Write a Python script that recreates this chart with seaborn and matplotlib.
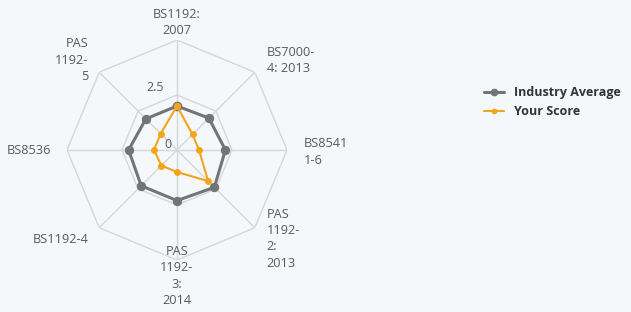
import numpy as np
import pandas as pd
import matplotlib
matplotlib.use("Agg")
import matplotlib.pyplot as plt
import seaborn as sns

# categories clockwise from the top
categories = ["BS1192:\n2007", "BS7000-\n4: 2013", "BS8541\n1-6", "PAS\n1192-\n2:\n2013",
              "PAS\n1192-\n3:\n2014", "BS1192-4", "BS8536", "PAS\n1192-\n5"]
industry_avg = [2.0, 2.05, 2.2, 2.4, 2.3, 2.3, 2.2, 2.0]
your_score = [2.0, 1.0, 1.0, 2.0, 1.0, 1.0, 1.05, 1.05]
radial_ticks = [0, 2.5, 5]
radial_labels = ["0", "2.5", ""]

bg = "#f5f8fa"
grid_c = "#d4d6d8"
gray = "#747474"
orange = "#f2a51a"
txt = "#5a5a5a"

sns.set_style("white")
plt.rcParams["font.family"] = ["Open Sans", "DejaVu Sans"]

n = len(categories)
theta = np.linspace(0, 2 * np.pi, n, endpoint=False)
theta_c = np.append(theta, 2 * np.pi)

df = pd.DataFrame({
    "theta": np.concatenate([theta_c, theta_c]),
    "value": industry_avg + industry_avg[:1] + your_score + your_score[:1],
    "series": ["Industry Average"] * (n + 1) + ["Your Score"] * (n + 1),
})

fig = plt.figure(figsize=(6.31, 3.12), dpi=100)
fig.patch.set_facecolor(bg)
ax = fig.add_axes([67 / 631, 52 / 312, 220 / 631, 220 / 312], projection="polar")
ax.set_facecolor(bg)
ax.set_theta_zero_location("N")
ax.set_theta_direction(-1)
ax.grid(False)
ax.spines["polar"].set_visible(False)
ax.set_ylim(0, 5)

# octagon grid and spokes
for lvl in radial_ticks[1:]:
    ax.plot(theta_c, [lvl] * (n + 1), color=grid_c, lw=1, zorder=1)
for t in theta:
    ax.plot([t, t], [0, 5], color=grid_c, lw=1, zorder=1)

sns.lineplot(data=df[df.series == "Industry Average"], x="theta", y="value", sort=False,
             estimator=None, color=gray, lw=2.2, marker="o", markersize=6,
             markeredgecolor=gray, label="Industry Average", ax=ax, zorder=3)
sns.lineplot(data=df[df.series == "Your Score"], x="theta", y="value", sort=False,
             estimator=None, color=orange, lw=1.5, marker="o", markersize=4.2,
             markeredgecolor=orange, label="Your Score", ax=ax, zorder=4)
ax.set_xlabel("")
ax.set_ylabel("")
ax.set_xticks([])
ax.set_yticks([])
ax.set_ylim(0, 5)

# radial labels
for v, lab in zip(radial_ticks, radial_labels):
    if lab:
        ax.text(np.deg2rad(-12 if v else -45), v + (0.4 if v else 0.35), lab, ha="right",
                va="center", fontsize=9, color=txt)

# category labels, offset in pixels from each outer vertex
lab_off = [
    ((0, 3), "center", "bottom"),
    ((12, 12), "left", "center"),
    ((17, -2), "left", "center"),
    ((12, -11), "left", "center"),
    ((0, -16), "center", "center"),
    ((-11, -12), "right", "center"),
    ((-16, 0), "right", "center"),
    ((-11, 12), "right", "center"),
]
for cat, t, (off, ha, va) in zip(categories, theta, lab_off):
    ax.annotate(cat, (t, 5), xytext=off, textcoords="offset pixels", ha=ha, va=va,
                fontsize=9.2, color=txt, linespacing=1.34, annotation_clip=False)

ax.get_legend().remove()
handles, labels = ax.get_legend_handles_labels()
leg = fig.legend(handles, labels, loc="upper left", bbox_to_anchor=(0.749, 0.76),
                 frameon=False, handlelength=1.6, handletextpad=0.8, labelspacing=0.5,
                 markerscale=0.8, prop={"weight": "bold", "size": 9})
for t in leg.get_texts():
    t.set_color("#333333")

fig.savefig("out.png", dpi=100, facecolor=bg)
